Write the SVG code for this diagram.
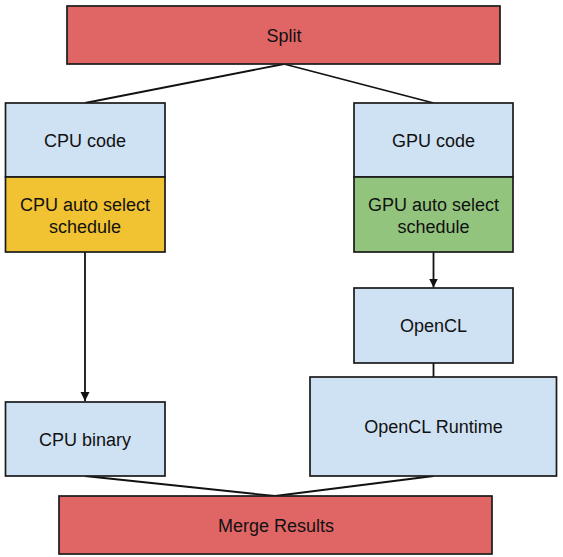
<svg xmlns="http://www.w3.org/2000/svg" width="563" height="557" viewBox="0 0 563 557">
<style>
.box{stroke:#1a1a1a;stroke-width:1.7}
.red{fill:#e06666}
.blue{fill:#cfe2f3}
.yellow{fill:#f1c232}
.green{fill:#93c47d}
text{font-family:"Liberation Sans",Arial,sans-serif;font-size:18px;fill:#111;text-anchor:middle}
.conn{stroke:#111;stroke-width:1.8;fill:none}
</style>
<defs>
<marker id="arrow" viewBox="0 0 10 10" refX="10" refY="5" markerWidth="5" markerHeight="6" markerUnits="strokeWidth" orient="auto">
<path d="M0,0 L10,5 L0,10 z" fill="#111"/>
</marker>
</defs>
<rect width="563" height="557" fill="#ffffff"/>
<g id="connectors">
<path class="conn" d="M284,64 L85,103"/>
<path class="conn" d="M284,64 L433.5,103"/>
<path class="conn" d="M85,252 L85,401" marker-end="url(#arrow)"/>
<path class="conn" d="M433.5,252 L433.5,287.5" marker-end="url(#arrow)"/>
<path class="conn" d="M433.5,363 L433.5,377"/>
<path class="conn" d="M85,476 L275,496"/>
<path class="conn" d="M433.5,476 L275,496"/>
</g>
<g id="split">
<rect class="box red" x="67" y="6" width="433" height="58"/>
<text x="284" y="41.5">Split</text>
</g>
<g id="cpu-code">
<rect class="box blue" x="5.5" y="103" width="159.5" height="74"/>
<text x="85" y="146.5">CPU code</text>
</g>
<g id="cpu-auto">
<rect class="box yellow" x="5.5" y="177" width="159.5" height="75"/>
<text x="85" y="211">CPU auto select</text>
<text x="85" y="232.5">schedule</text>
</g>
<g id="gpu-code">
<rect class="box blue" x="354" y="103" width="159" height="74"/>
<text x="433.5" y="146.5">GPU code</text>
</g>
<g id="gpu-auto">
<rect class="box green" x="354" y="177" width="159" height="75"/>
<text x="433.5" y="211">GPU auto select</text>
<text x="433.5" y="232.5">schedule</text>
</g>
<g id="opencl">
<rect class="box blue" x="354" y="288" width="159" height="75"/>
<text x="433.5" y="332">OpenCL</text>
</g>
<g id="opencl-runtime">
<rect class="box blue" x="310" y="377" width="246.5" height="99"/>
<text x="433.5" y="433">OpenCL Runtime</text>
</g>
<g id="cpu-binary">
<rect class="box blue" x="5.5" y="402" width="159.5" height="74"/>
<text x="85" y="445.5">CPU binary</text>
</g>
<g id="merge">
<rect class="box red" x="59" y="496" width="433" height="58"/>
<text x="276" y="531.5">Merge Results</text>
</g>
</svg>
